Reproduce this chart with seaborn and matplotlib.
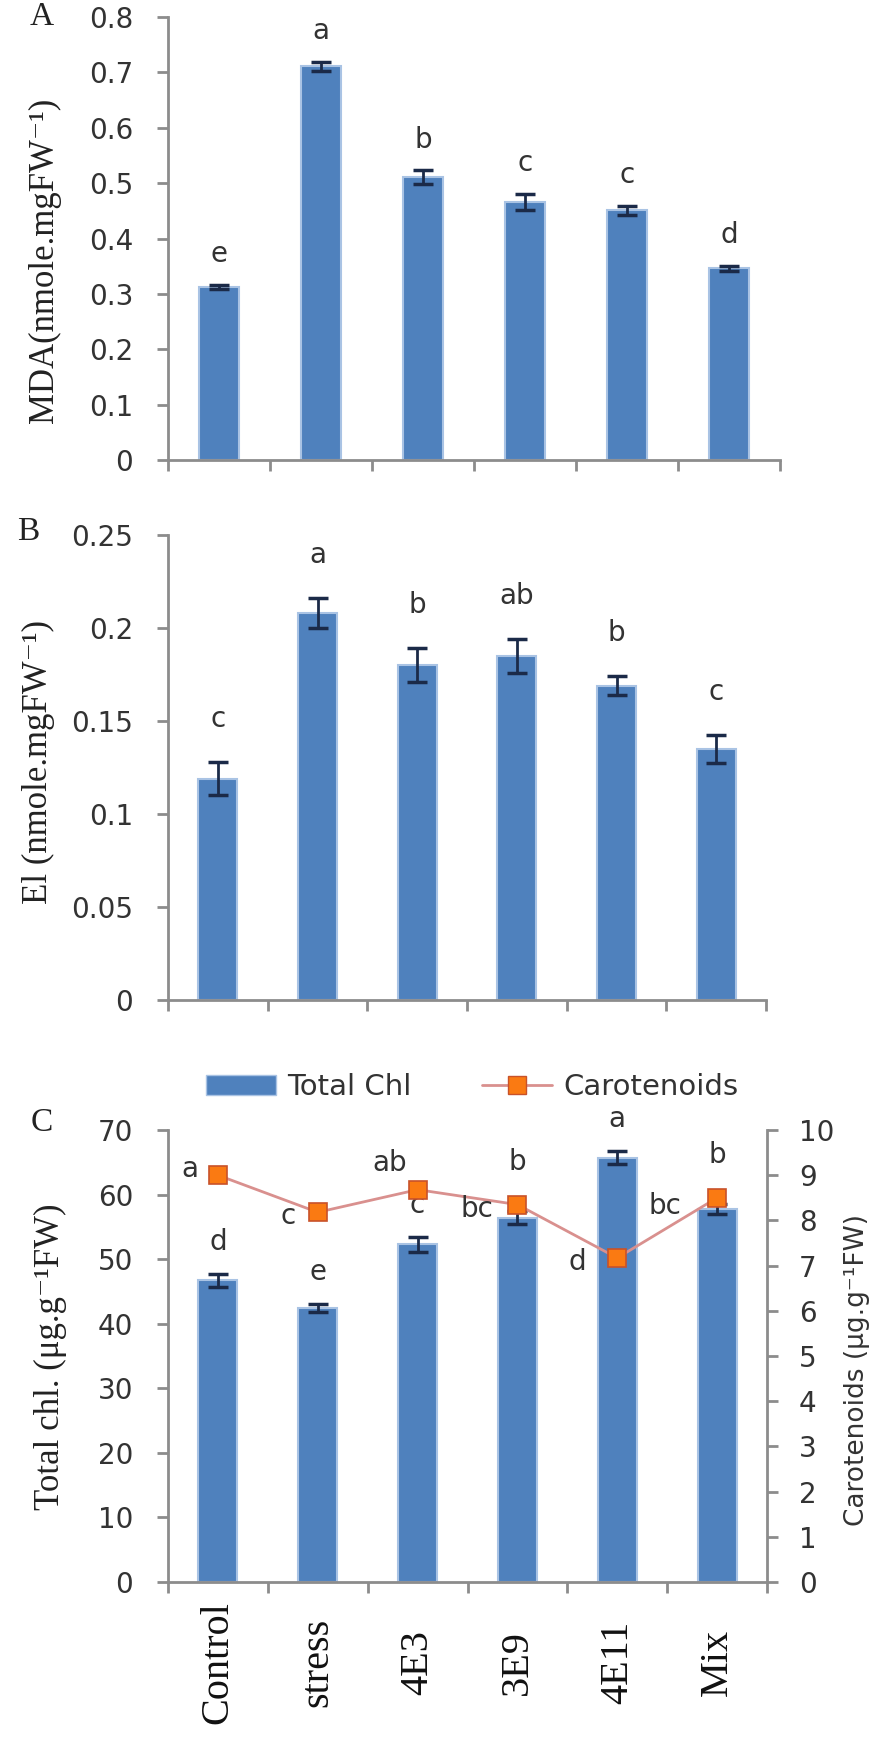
import numpy as np
import seaborn as sns
import matplotlib.pyplot as plt
from matplotlib.patches import Patch
from matplotlib.lines import Line2D
from matplotlib.ticker import FuncFormatter

# data
cats = ['Control', 'stress', '4E3', '3E9', '4E11', 'Mix']

mda = [0.312, 0.711, 0.511, 0.466, 0.451, 0.346]
mda_err = [0.004, 0.008, 0.012, 0.015, 0.008, 0.005]
mda_letters = ['e', 'a', 'b', 'c', 'c', 'd']

el = [0.119, 0.208, 0.180, 0.185, 0.169, 0.135]
el_err = [0.009, 0.008, 0.009, 0.009, 0.005, 0.0075]
el_letters = ['c', 'a', 'b', 'ab', 'b', 'c']

chl = [46.7, 42.4, 52.3, 56.4, 65.7, 57.8]
chl_err = [1.0, 0.6, 1.2, 1.0, 1.0, 0.8]
chl_letters = ['d', 'e', 'c', 'b', 'a', 'b']

carot = [9.0, 8.18, 8.68, 8.35, 7.17, 8.5]
carot_letters = ['a', 'c', 'ab', 'bc', 'd', 'bc']

# label offsets (px) for the carotenoid letters, relative to the marker
carot_off = [(-28, -6), (-30, 4), (-28, -27), (-40, 4), (-40, 4), (-52, 8)]

sns.set_theme(style='white')
plt.rcParams['font.family'] = ['DejaVu Sans']

BLUE = '#4F81BD'
EDGE = '#A9C3E4'
ERR = '#1B2A48'
ORANGE = '#FA7A12'
OEDGE = '#C8522A'
LINE = '#D9908E'
AXIS = '#8C8C8C'
TXT = '#333333'
SERIF = ['Liberation Serif', 'DejaVu Serif']

W, H = 891, 1738
fig = plt.figure(figsize=(W / 100, H / 100), dpi=100)


def box(x0, x1, y0, y1):
    return [x0 / W, 1 - y1 / H, (x1 - x0) / W, (y1 - y0) / H]


axA = fig.add_axes(box(168, 780, 17, 460))
axB = fig.add_axes(box(168, 766, 535, 1000))
axC = fig.add_axes(box(168, 767, 1130, 1582))


def bars(ax, vals, errs):
    sns.barplot(x=cats, y=vals, color=BLUE, saturation=1, width=0.39,
                edgecolor=EDGE, linewidth=1.5, errorbar=None, ax=ax)
    ax.errorbar(np.arange(len(cats)), vals, yerr=errs, fmt='none', ecolor=ERR,
                elinewidth=2, capsize=7, capthick=2.5, zorder=5)


def style(ax):
    for s in ['top', 'right']:
        ax.spines[s].set_visible(False)
    for s in ['left', 'bottom']:
        ax.spines[s].set_color(AXIS)
        ax.spines[s].set_linewidth(2)
    ax.set_xlim(-0.5, len(cats) - 0.5)
    ax.set_xticks(np.arange(-0.5, len(cats), 1))
    ax.set_xticklabels([])
    ax.tick_params(axis='both', which='major', direction='out', length=8,
                   width=2, color=AXIS, labelsize=20, labelcolor=TXT,
                   bottom=True, left=True)
    ax.tick_params(axis='y', pad=17)
    ax.yaxis.set_major_formatter(FuncFormatter(lambda v, p: f'{v:g}'))
    ax.set_xlabel('')
    ax.set_ylabel('')


# ---- A: MDA
bars(axA, mda, mda_err)
style(axA)
axA.set_ylim(0, 0.8)
axA.set_yticks(np.arange(0, 0.81, 0.1))
for i, (v, e, l) in enumerate(zip(mda, mda_err, mda_letters)):
    axA.annotate(l, (i, v + e), xytext=(0, 22), textcoords='offset points',
                 ha='center', va='center', fontsize=20, color=TXT)

# ---- B: EL
bars(axB, el, el_err)
style(axB)
axB.set_ylim(0, 0.25)
axB.set_yticks(np.arange(0, 0.251, 0.05))
for i, (v, e, l) in enumerate(zip(el, el_err, el_letters)):
    axB.annotate(l, (i, v + e), xytext=(0, 31), textcoords='offset points',
                 ha='center', va='center', fontsize=20, color=TXT)

# ---- C: chlorophyll + carotenoids
bars(axC, chl, chl_err)
style(axC)
axC.set_ylim(0, 70)
axC.set_yticks(np.arange(0, 71, 10))
axC.set_xticks(np.arange(len(cats)), minor=True)
axC.set_xticklabels(cats, minor=True, rotation=90, va='center', ha='center',
                    fontsize=29, family=SERIF, color='#111111')
axC.tick_params(axis='x', which='minor', length=0, pad=58)

ax2 = axC.twinx()
sns.lineplot(x=np.arange(len(cats)), y=carot, ax=ax2, color=LINE, lw=2,
             marker='s', markersize=13, markerfacecolor=ORANGE,
             markeredgecolor=OEDGE, markeredgewidth=1.2)
ax2.set_ylim(0, 10)
ax2.set_yticks(np.arange(0, 11, 1))
for s in ['top', 'left', 'bottom']:
    ax2.spines[s].set_visible(False)
ax2.spines['right'].set_color(AXIS)
ax2.spines['right'].set_linewidth(2)
ax2.tick_params(axis='y', direction='out', length=8, width=2, color=AXIS,
                labelsize=20, labelcolor=TXT, pad=15, right=True)
ax2.set_ylabel('')

for i, (v, e, l) in enumerate(zip(chl, chl_err, chl_letters)):
    top = v + e
    mk = carot[i] * 7
    if abs(mk - top) < 3:
        axC.annotate(l, (i, mk), xytext=(0, 31), textcoords='offset points',
                     ha='center', va='center', fontsize=20, color=TXT)
    else:
        axC.annotate(l, (i, top), xytext=(0, 23), textcoords='offset points',
                     ha='center', va='center', fontsize=20, color=TXT)

for i, (v, l) in enumerate(zip(carot, carot_letters)):
    dx, dy = carot_off[i]
    ax2.annotate(l, (i, v), xytext=(dx * 0.72, -dy * 0.72),
                 textcoords='offset points', ha='center', va='center',
                 fontsize=20, color=TXT)

handles = [Patch(facecolor=BLUE, edgecolor=EDGE),
           Line2D([0], [0], color=LINE, lw=2, marker='s', markersize=13,
                  markerfacecolor=ORANGE, markeredgecolor=OEDGE)]
fig.legend(handles, ['Total Chl', 'Carotenoids'], ncol=2, loc='center',
           bbox_to_anchor=(472 / W, 1 - 1087 / H), frameon=False, fontsize=21,
           handlelength=2.4, columnspacing=2.4, handletextpad=0.4,
           labelcolor=TXT)

# axis titles and panel letters
fig.text(44 / W, 1 - 260 / H, 'MDA(nmole.mgFW⁻¹)', rotation=90, ha='center',
         va='center', fontsize=25, family=SERIF, color='#222222')
fig.text(38 / W, 1 - 762 / H, 'El (nmole.mgFW⁻¹)', rotation=90, ha='center',
         va='center', fontsize=25, family=SERIF, color='#222222')
fig.text(50 / W, 1 - 1357 / H, 'Total chl. (μg.g⁻¹FW)', rotation=90,
         ha='center', va='center', fontsize=25, family=SERIF, color='#222222')
fig.text(857 / W, 1 - 1370 / H, 'Carotenoids (μg.g⁻¹FW)', rotation=90,
         ha='center', va='center', fontsize=19, color=TXT)

fig.text(42 / W, 1 - 17 / H, 'A', ha='center', va='center', fontsize=24,
         family=SERIF, color='#222222')
fig.text(28 / W, 1 - 532 / H, 'B', ha='center', va='center', fontsize=24,
         family=SERIF, color='#222222')
fig.text(42 / W, 1 - 1123 / H, 'C', ha='center', va='center', fontsize=24,
         family=SERIF, color='#222222')

fig.savefig('out.png', dpi=100)
